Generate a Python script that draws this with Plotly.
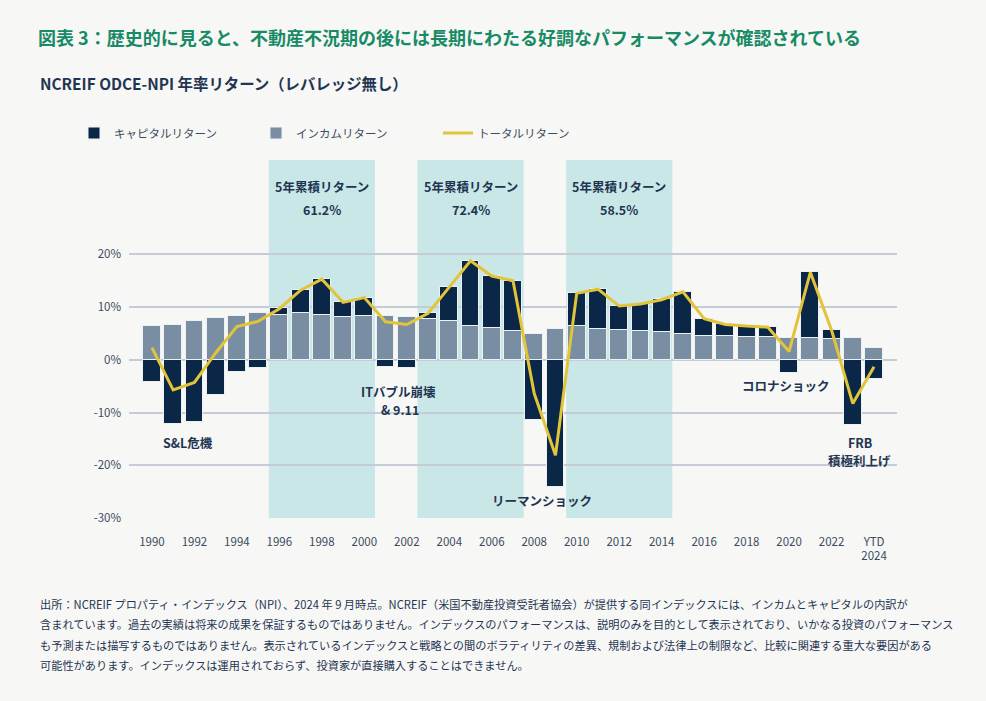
import plotly.graph_objects as go

# ---------------- data ----------------
years = list(range(1990, 2025))
income = [6.4, 6.6, 7.3, 7.9, 8.4, 8.8, 8.5, 8.8, 8.5, 8.1,
          8.4, 8.4, 8.2, 7.7, 7.3, 6.5, 6.1, 5.4, 4.9, 5.9,
          6.5, 5.9, 5.7, 5.4, 5.2, 4.9, 4.6, 4.6, 4.4, 4.4,
          4.1, 4.2, 3.9, 4.2, 2.3]
capital = [-4.2, -12.2, -11.8, -6.6, -2.3, -1.5, 1.4, 4.4, 6.9, 2.8,
           3.4, -1.3, -1.6, 1.2, 6.5, 12.3, 9.8, 9.6, -11.5, -24.2,
           6.1, 7.6, 4.6, 5.2, 6.3, 7.9, 3.1, 2.2, 2.0, 1.8,
           -2.5, 12.4, 1.8, -12.4, -3.7]
total = [2.3, -5.7, -4.3, 1.3, 6.3, 7.3, 9.7, 13.2, 15.3, 10.9,
         11.8, 7.2, 6.7, 8.8, 13.8, 18.8, 15.9, 15.0, -6.4, -18.1,
         12.6, 13.4, 10.2, 10.6, 11.4, 12.9, 7.8, 6.7, 6.4, 6.2,
         1.6, 16.6, 5.6, -8.3, -1.3]

tick_years = list(range(1990, 2023, 2)) + [2024]
tick_labels = [str(y) for y in range(1990, 2023, 2)] + ["YTD<br>2024"]
y_ticks = [-30, -20, -10, 0, 10, 20]
y_tick_labels = [f"{v}%" for v in y_ticks]

period_start = [1996, 2003, 2010]
period_end = [2000, 2007, 2014]
period_return = ["61.2%", "72.4%", "58.5%"]

event_lines = ["S&L危機", "ITバブル崩壊", "& 9.11", "リーマンショック", "コロナショック", "FRB", "積極利上げ"]
event_x = [1991.7, 2001.63, 2001.68, 2008.35, 2019.85, 2023.33, 2023.3]
event_y = [-15.6, -6.1, -9.5, -26.6, -4.9, -15.6, -19.15]

title = "図表 3：歴史的に見ると、不動産不況期の後には長期にわたる好調なパフォーマンスが確認されている"
subtitle = "NCREIF ODCE-NPI 年率リターン（レバレッジ無し）"
footnote = [
    "出所：NCREIF プロパティ・インデックス（NPI）、2024 年 9 月時点。NCREIF（米国不動産投資受託者協会）が提供する同インデックスには、インカムとキャピタルの内訳が",
    "含まれています。過去の実績は将来の成果を保証するものではありません。インデックスのパフォーマンスは、説明のみを目的として表示されており、いかなる投資のパフォーマンス",
    "も予測または描写するものではありません。表示されているインデックスと戦略との間のボラティリティの差異、規制および法律上の制限など、比較に関連する重大な要因がある",
    "可能性があります。インデックスは運用されておらず、投資家が直接購入することはできません。",
]

# ---------------- styling ----------------
W, H = 986, 701
L, R, T, B = 129, 89, 160, 183
FONT = "Noto Sans CJK JP"
NAVY = "#0b2748"
INCOME_C = "#7a8ea3"
LINE_C = "#e2c43a"
SHADE = "#c9e7e6"
BG = "#f7f7f5"
TXT = "#1f3552"
TICK = "#3b4b60"
GREEN = "#178a66"

pw, ph = W - L - R, H - T - B


def px_x(p):
    return (p - L) / pw


def px_y(p):
    return (H - B - p) / ph


fig = go.Figure()
fig.add_trace(go.Bar(x=years, y=income, name="インカムリターン", marker_color=INCOME_C,
                     marker_line=dict(color="#eef1f2", width=1), width=0.84, legendrank=2))
fig.add_trace(go.Bar(x=years, y=capital, name="キャピタルリターン", marker_color=NAVY,
                     marker_line=dict(color="#eef1f2", width=1), width=0.84, legendrank=1))
fig.add_trace(go.Scatter(x=years, y=total, name="トータルリターン", mode="lines",
                         line=dict(color=LINE_C, width=3), legendrank=3))

shapes = []
annotations = []
for s, e, r in zip(period_start, period_end, period_return):
    shapes.append(dict(type="rect", xref="x", yref="paper", x0=s - 0.5, x1=e + 0.5, y0=0, y1=1,
                       fillcolor=SHADE, line_width=0, layer="below"))
    annotations.append(dict(x=(s + e) / 2, y=px_y(186), xref="x", yref="paper", text="5年累積リターン",
                            showarrow=False, yanchor="middle",
                            font=dict(family=FONT, size=12.5, color=TXT, weight=600)))
    annotations.append(dict(x=(s + e) / 2, y=px_y(209), xref="x", yref="paper", text=r,
                            showarrow=False, yanchor="middle",
                            font=dict(family=FONT, size=12.5, color=TXT, weight=600)))

for t, ex, ey in zip(event_lines, event_x, event_y):
    annotations.append(dict(x=ex, y=ey, xref="x", yref="y", text=t, showarrow=False,
                            yanchor="middle",
                            font=dict(family=FONT, size=12.5, color=TXT, weight=600)))

annotations.append(dict(x=px_x(38), y=px_y(83), xref="paper", yref="paper", text=subtitle,
                        showarrow=False, xanchor="left", yanchor="middle",
                        font=dict(family=FONT, size=15.4, color=TXT, weight="bold")))
for i, line in enumerate(footnote):
    annotations.append(dict(x=px_x(38), y=px_y(604 + 20.4 * i), xref="paper", yref="paper", text=line,
                            showarrow=False, xanchor="left", yanchor="middle",
                            font=dict(family=FONT, size=11.2, color=TXT)))

fig.update_layout(
    width=W, height=H,
    margin=dict(l=L, r=R, t=T, b=B, pad=0),
    paper_bgcolor=BG, plot_bgcolor=BG,
    barmode="relative", bargap=0,
    font=dict(family=FONT, color=TICK),
    title=dict(text=title, x=38 / W, xanchor="left", xref="container",
               y=1 - 39 / H, yanchor="middle", yref="container",
               font=dict(family=FONT, size=18, color=GREEN, weight="bold")),
    legend=dict(orientation="h", x=px_x(74), y=px_y(133), xanchor="left", yanchor="middle",
                font=dict(family=FONT, size=11.5, color=TICK), bgcolor="rgba(0,0,0,0)",
                entrywidth=137, entrywidthmode="pixels", itemwidth=30),
    shapes=shapes, annotations=annotations,
    xaxis=dict(range=[1988.92, 2025.08], tickmode="array", tickvals=tick_years, ticktext=tick_labels,
               showgrid=False, zeroline=False, showline=False, ticks="",
               tickfont=dict(family=FONT, size=11.5, color=TICK), ticklabelstandoff=15),
    yaxis=dict(range=[-30, 37.9], tickmode="array", tickvals=y_ticks, ticktext=y_tick_labels,
               showgrid=True, gridcolor="#c6ccd5", gridwidth=1.5, zeroline=False, showline=False,
               ticks="", tickfont=dict(family=FONT, size=11.5, color=TICK), ticklabelstandoff=7),
)

fig.write_html("out.html", config={"displayModeBar": False})
